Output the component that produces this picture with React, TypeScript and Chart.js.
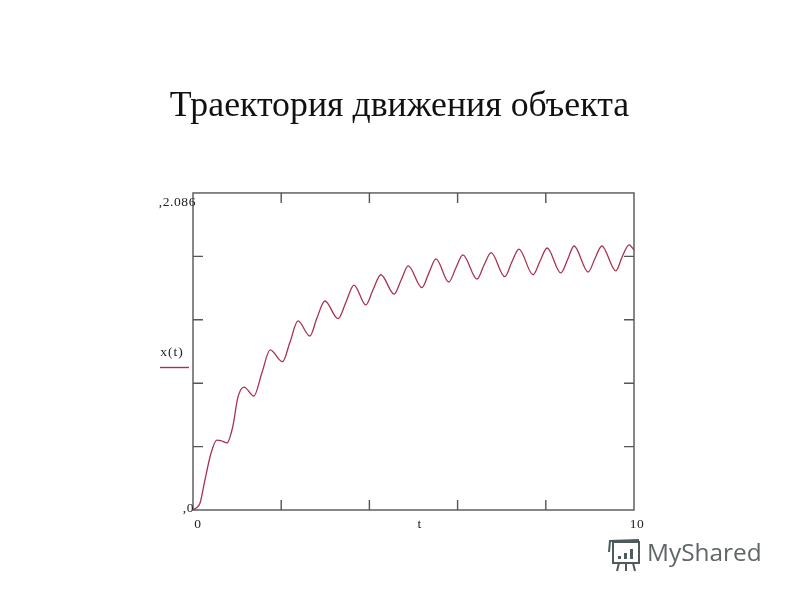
import React, { useEffect, useRef } from "react";
import { Chart, registerables } from "chart.js";

Chart.register(...registerables);

const chartTitle = "Траектория движения объекта";
const seriesName = "x(t)";
const xAxisName = "t";
const yMax = 2.086;
const xTicks = [0, 2, 4, 6, 8, 10];
const yTicks = [0, 0.4172, 0.8344, 1.2516, 1.6688, 2.086];
const tValues = [
  0, 0.07, 0.16, 0.27, 0.41, 0.54, 0.63, 0.77, 0.9, 1.02, 1.16, 1.38, 1.56, 1.75, 2.03, 2.2, 2.38, 2.65, 2.81, 2.99,
  3.29, 3.47, 3.65, 3.92, 4.08, 4.26, 4.56, 4.72, 4.88, 5.19, 5.35, 5.51, 5.8, 5.96, 6.12, 6.44, 6.6, 6.76, 7.07,
  7.23, 7.39, 7.71, 7.87, 8.03, 8.34, 8.5, 8.64, 8.96, 9.12, 9.27, 9.59, 9.73, 9.89, 10,
];
const xValues = [
  0, 0.013, 0.046, 0.197, 0.375, 0.46, 0.457, 0.441, 0.546, 0.744, 0.809, 0.75, 0.9, 1.053, 0.976, 1.105, 1.244,
  1.145, 1.263, 1.375, 1.259, 1.369, 1.48, 1.349, 1.448, 1.548, 1.421, 1.513, 1.606, 1.463, 1.56, 1.652, 1.5, 1.592,
  1.678, 1.52, 1.612, 1.693, 1.535, 1.632, 1.717, 1.548, 1.638, 1.724, 1.56, 1.652, 1.737, 1.566, 1.658, 1.737,
  1.573, 1.665, 1.744, 1.711,
];

const LINE = "#a8324e";
const AXIS = "#555555";
const SERIF = '"Liberation Serif", serif';

const decorations = {
  id: "decorations",
  afterDraw(chart: any) {
    const { ctx, chartArea: a, scales } = chart;
    const { x, y } = scales;
    ctx.save();
    ctx.strokeStyle = AXIS;
    ctx.lineWidth = 1.4;
    ctx.strokeRect(a.left, a.top, a.right - a.left, a.bottom - a.top);
    ctx.beginPath();
    for (const t of xTicks.slice(1, -1)) {
      const px = x.getPixelForValue(t);
      ctx.moveTo(px, a.top);
      ctx.lineTo(px, a.top + 10);
      ctx.moveTo(px, a.bottom);
      ctx.lineTo(px, a.bottom - 10);
    }
    for (const v of yTicks.slice(1, -1)) {
      const py = y.getPixelForValue(v);
      ctx.moveTo(a.left, py);
      ctx.lineTo(a.left + 10, py);
      ctx.moveTo(a.right, py);
      ctx.lineTo(a.right - 10, py);
    }
    ctx.stroke();

    ctx.fillStyle = "#222222";
    ctx.textBaseline = "middle";
    ctx.font = `13.5px ${SERIF}`;
    ctx.textAlign = "right";
    ctx.letterSpacing = "0.6px";
    ctx.fillText(`,${yMax}`, a.left + 3, a.top + 9);
    ctx.fillText(",0", a.left + 1, a.bottom - 2);
    ctx.textAlign = "center";
    ctx.fillText("0", a.left + 5, a.bottom + 14);
    ctx.fillText(xAxisName, x.getPixelForValue(5.12) + 1, a.bottom + 14);
    ctx.fillText("10", a.right + 3, a.bottom + 14);
    ctx.letterSpacing = "1px";
    ctx.fillText(seriesName, 172, 352);
    ctx.letterSpacing = "0px";
    ctx.strokeStyle = LINE;
    ctx.beginPath();
    ctx.moveTo(160, 367.5);
    ctx.lineTo(189, 367.5);
    ctx.stroke();

    // watermark
    ctx.fillStyle = "#5f6668";
    ctx.textAlign = "left";
    ctx.font = '500 24.4px "Open Sans", sans-serif';
    ctx.fillText("MyShared", 647, 554);
    ctx.strokeStyle = "#4f5a5c";
    ctx.lineWidth = 2;
    ctx.strokeRect(613, 542, 26, 21);
    ctx.beginPath();
    ctx.moveTo(609, 552);
    ctx.lineTo(610, 541);
    ctx.lineTo(639, 540);
    ctx.moveTo(619, 563);
    ctx.lineTo(617, 571);
    ctx.moveTo(626, 563);
    ctx.lineTo(626, 571);
    ctx.moveTo(633, 563);
    ctx.lineTo(635, 571);
    ctx.stroke();
    ctx.fillStyle = "#4f5a5c";
    ctx.fillRect(618, 556, 3, 3);
    ctx.fillRect(624, 553, 3, 6);
    ctx.fillRect(630, 549, 3, 10);
    ctx.restore();
  },
};

export default function App() {
  const ref = useRef<HTMLCanvasElement>(null);
  useEffect(() => {
    document.body.style.margin = "0";
    const chart = new Chart(ref.current!, {
      type: "line",
      data: {
        datasets: [
          {
            label: seriesName,
            data: tValues.map((t, i) => ({ x: t, y: xValues[i] })),
            borderColor: LINE,
            borderWidth: 1.3,
            pointRadius: 0,
            cubicInterpolationMode: "monotone",
            clip: false,
          },
        ],
      },
      options: {
        animation: false,
        responsive: false,
        layout: { padding: { left: 165, right: 166, top: 85, bottom: 82 } },
        scales: {
          x: { type: "linear", min: 0, max: 10, display: true, grid: { display: false }, border: { display: false }, ticks: { display: false } },
          y: {
            min: 0,
            max: yMax,
            display: true,
            grid: { display: false },
            border: { display: false },
            ticks: { display: false },
            afterFit(scale: any) {
              scale.width = 28;
            },
          },
        },
        plugins: {
          legend: { display: false },
          tooltip: { enabled: false },
          title: {
            display: true,
            text: chartTitle,
            color: "#111111",
            font: { family: "Liberation Serif", size: 35.8, weight: "normal" },
            padding: { top: 0, bottom: 65 },
          },
        },
      },
      plugins: [decorations],
    } as any);
    return () => chart.destroy();
  }, []);
  return <canvas ref={ref} width={800} height={600} style={{ display: "block" }} />;
}
